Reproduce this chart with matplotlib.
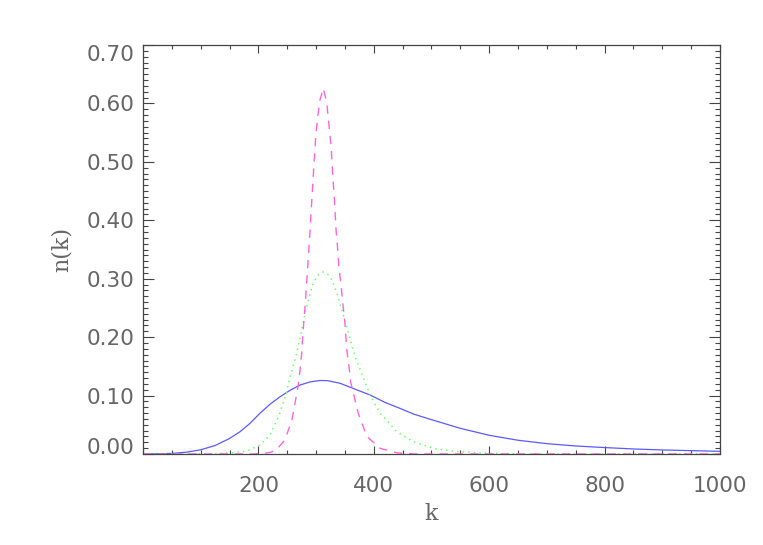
#!/usr/bin/env python3

"""
Three size distributions n(k), IDL-style line plot
"""

import matplotlib
matplotlib.use("Agg")
import matplotlib.pyplot as plt
from matplotlib.ticker import MultipleLocator, FixedLocator

# blue solid, broad distribution
k_blue = [0, 25, 50, 75, 100, 125, 150, 168, 185, 203, 220, 237.6, 255, 272, 290,
          307, 320, 341.6, 370, 393.6, 420, 445.6, 470, 497.6, 549.6, 600, 650,
          700, 750, 800, 850, 900, 950, 1000]
n_blue = [0.0, 0.0002, 0.001, 0.003, 0.0072, 0.0145, 0.0265, 0.038, 0.052, 0.070,
          0.085, 0.098, 0.109, 0.118, 0.1235, 0.1258, 0.1255, 0.121, 0.110, 0.101,
          0.088, 0.078, 0.068, 0.0595, 0.044, 0.032, 0.0235, 0.0177, 0.0137,
          0.011, 0.0086, 0.0069, 0.0057, 0.0046]

# green dotted, medium width
k_green = [0, 120, 156, 180, 203, 220, 235, 249, 255, 265, 274, 281, 288.4, 295.3,
           304, 312.6, 320, 327, 336, 344.6, 356, 367.6, 379, 393.6, 411, 440,
           468.6, 503, 544, 600, 650, 700, 1000]
n_green = [0.0, 0.0005, 0.002, 0.005, 0.0154, 0.0326, 0.064, 0.106, 0.1326, 0.167,
           0.207, 0.241, 0.270, 0.293, 0.307, 0.3116, 0.308, 0.2985, 0.2756, 0.247,
           0.207, 0.167, 0.138, 0.101, 0.070, 0.038, 0.021, 0.0097, 0.004, 0.0012,
           0.0003, 0.0, 0.0]

# magenta dashed, narrow peak
k_mag = [0, 190, 209, 222, 232, 246, 258, 264, 269, 272, 275, 277, 281.5, 285.6,
         289.6, 293, 296.5, 299.5, 303, 307, 312.5, 318.5, 322.5, 326, 329, 331.7,
         334.6, 338, 339.5, 342.7, 346, 350, 353, 357, 360, 373, 388, 411, 440,
         470, 1000]
n_mag = [0.0, 0.0, 0.001, 0.003, 0.008, 0.024, 0.058, 0.090, 0.117, 0.142, 0.171,
         0.204, 0.260, 0.321, 0.384, 0.441, 0.499, 0.544, 0.579, 0.607, 0.626,
         0.6015, 0.561, 0.527, 0.476, 0.436, 0.384, 0.344, 0.320, 0.2945, 0.261,
         0.224, 0.180, 0.150, 0.123, 0.070, 0.030, 0.0097, 0.002, 0.0, 0.0]

x_ticks = [200, 400, 600, 800, 1000]
y_ticks = [0.0, 0.1, 0.2, 0.3, 0.4, 0.5, 0.6, 0.7]

plt.rcParams["lines.scale_dashes"] = False
axis_col = "#444444"
text_col = "#666666"

fig = plt.figure(figsize=(7.63, 5.45), dpi=100)
ax = fig.add_axes([0.1874, 0.167, 0.7562, 0.7504])

ax.plot(k_blue, n_blue, color="#5a5aff", lw=0.9)
ax.plot(k_green, n_green, color="#66ff66", lw=1.1, dashes=(1, 3))
ax.plot(k_mag, n_mag, color="#ff66dd", lw=1.0, dashes=(6, 5))

ax.set_xlim(0, 1000)
ax.set_ylim(0, 0.70)

ax.xaxis.set_major_locator(FixedLocator(x_ticks))
ax.xaxis.set_minor_locator(MultipleLocator(50))
ax.yaxis.set_major_locator(FixedLocator(y_ticks))
ax.yaxis.set_minor_locator(MultipleLocator(0.01))
ax.set_yticklabels(["%.2f" % v for v in y_ticks])

ax.tick_params(axis="both", which="both", direction="in", top=True, right=True,
               color=axis_col, width=0.8, labelcolor=text_col, labelsize=15.5)
ax.tick_params(axis="x", which="major", length=6, pad=16)
ax.tick_params(axis="x", which="minor", length=3)
ax.tick_params(axis="y", which="major", length=8, pad=6)
ax.tick_params(axis="y", which="minor", length=3.5)

for lab in ax.get_xticklabels() + ax.get_yticklabels():
    lab.set_family("DejaVu Sans")

# IDL keeps the end labels inside the axis range
ylabs = ax.get_yticklabels()
ylabs[0].set_verticalalignment("baseline")
ylabs[-1].set_verticalalignment("top")

for s in ax.spines.values():
    s.set_color(axis_col)
    s.set_linewidth(0.9)

ax.set_xlabel("k", family="DejaVu Serif", fontsize=16, color=text_col, labelpad=5)
ax.set_ylabel("n(k)", family="DejaVu Serif", fontsize=16, color=text_col, labelpad=10)

fig.savefig("out.png", dpi=100)
